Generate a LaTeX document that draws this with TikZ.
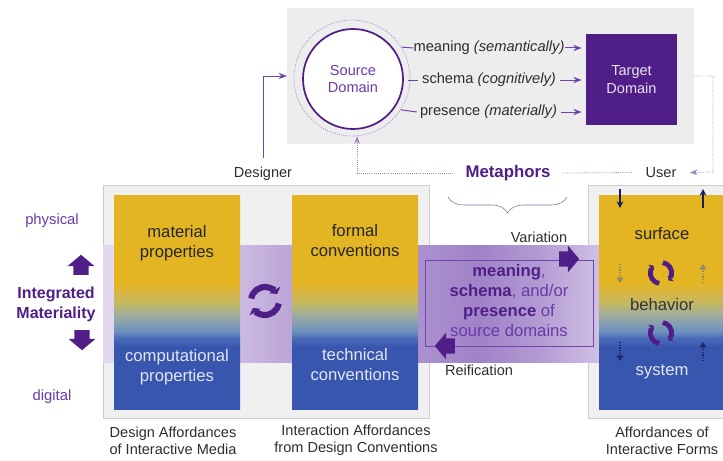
\documentclass[tikz,border=0pt]{standalone}
\usepackage{fontspec}
\setmainfont{Liberation Sans}
\usetikzlibrary{arrows.meta, calc, positioning, shapes.arrows, decorations.pathreplacing}
\definecolor{deeppurple}{RGB}{79,31,135}
\definecolor{textpurple}{RGB}{106,58,168}
\definecolor{linepurple}{RGB}{112,70,170}
\definecolor{softpurple}{RGB}{160,130,200}
\definecolor{panelgray}{RGB}{237,237,237}
\definecolor{boxgray}{RGB}{240,240,240}
\definecolor{edgegray}{RGB}{205,205,205}
\definecolor{matyellow}{RGB}{227,181,35}
\definecolor{matblue}{RGB}{56,86,174}
\definecolor{darktext}{RGB}{45,45,45}
\definecolor{navy}{RGB}{20,30,90}
\definecolor{fadeA}{RGB}{214,182,70}
\definecolor{fadeB}{RGB}{197,184,96}
\definecolor{fadeC}{RGB}{168,176,143}
\definecolor{fadeD}{RGB}{143,165,170}
\definecolor{fadeE}{RGB}{106,142,192}
\definecolor{fadeF}{RGB}{74,108,184}
\pgfdeclareverticalshading{matshade}{100bp}{
  color(0bp)=(matblue); color(39.5bp)=(matblue); color(41.6bp)=(fadeF); color(43bp)=(fadeE);
  color(45.8bp)=(fadeD); color(47.7bp)=(fadeC); color(49.8bp)=(fadeB); color(52.1bp)=(fadeA);
  color(54.4bp)=(matyellow); color(100bp)=(matyellow)}
\pgfdeclarehorizontalshading{bandshade}{100bp}{
  color(0bp)=(softpurple!30!white); color(25bp)=(softpurple!30!white); color(38.8bp)=(softpurple!55!white);
  color(44.05bp)=(softpurple!72!white); color(56.76bp)=(softpurple!88!white);
  color(63bp)=(softpurple); color(69bp)=(softpurple!80!white);
  color(75bp)=(softpurple!50!white); color(100bp)=(softpurple!50!white)}
\tikzset{
  label text/.style={font=\fontsize{10.9}{12.8}\selectfont, text=darktext, align=center, inner sep=0pt},
  flow text/.style={font=\fontsize{11}{13}\selectfont, text=darktext, inner sep=0pt, text height=8pt, text depth=2.5pt},
  bar text/.style={font=\fontsize{12.5}{15}\selectfont, align=center, inner sep=0pt},
  side text/.style={font=\fontsize{11.1}{13}\selectfont, text=textpurple, inner sep=0pt},
  bar/.style={shading=matshade},
  flow/.style={line width=.75pt, linepurple},
  dotflow/.style={line width=.6pt, softpurple, densely dotted},
  blockarrow/.style={single arrow, fill=deeppurple, inner ysep=5.5pt, inner xsep=0pt, minimum width=20pt,
    minimum height=15pt, single arrow head extend=4.5pt, single arrow tip angle=100},
  cyclearrow/.style={deeppurple, line width=4.6pt, -{Triangle[length=3.5pt,width=9.5pt]}},
  smallcycle/.style={deeppurple, line width=3.6pt, -{Triangle[length=2.5pt,width=6pt]}},
  hintarrow/.style={line width=1pt, densely dotted, -{Triangle[length=4pt,width=5pt]}}
}
\begin{document}
\begin{tikzpicture}[x=.75pt, y=-.75pt, >=Stealth]
    \useasboundingbox (0,0) rectangle (723,460);

    % Top panel
    \fill[panelgray] (287,8) rectangle (694,144);
    \coordinate (panelL) at (287,76);
    \coordinate (panelR) at (694,76);

    % Source and target
    \node[circle, draw=softpurple, densely dotted, line width=.6pt, minimum size=87pt, inner sep=0pt] (srcdot) at (352,78) {};
    \node[circle, draw=deeppurple, fill=white, line width=1.3pt, minimum size=75pt, inner sep=0pt, align=center,
        text=textpurple, font=\fontsize{10.9}{13}\selectfont] (src) at (353,79) {Source\\Domain};
    \node[rectangle, fill=deeppurple, minimum width=68.25pt, minimum height=68.25pt, inner sep=0pt, align=center,
        text=white!85!textpurple, font=\fontsize{10.9}{13}\selectfont] (target) at (631.5,79.5) {Target\\Domain};

    % Mapping labels
    \node[flow text] (meaning) at (489,48) {meaning \textit{(semantically)}};
    \node[flow text] (schema) at (489,80) {schema \textit{(cognitively)}};
    \node[flow text] (presence) at (488.5,112) {presence \textit{(materially)}};
    \draw[flow] (srcdot.32) -- (meaning.west);
    \draw[flow, ->, shorten >=3pt] (meaning.east) -- (target.west |- meaning);
    \draw[flow] (srcdot.east) ++(-2,2) -- ($(schema.west)+(-4,0)$);
    \draw[flow, ->, shorten >=3pt, shorten <=3pt] (schema.east) -- (target.west |- schema);
    \draw[flow] (srcdot.-33) -- ($(presence.west)+(-3,0)$);
    \draw[flow, ->, shorten >=3pt, shorten <=3pt] (presence.east) -- (target.west |- presence);

    % Designer, metaphors, user
    \node[label text] (designer) at (263,173.5) {Designer};
    \node[text=deeppurple, font=\bfseries\fontsize{12.6}{15}\selectfont, inner ysep=0pt, inner xsep=9pt] (metaphors) at (508,173) {Metaphors};
    \node[label text, inner xsep=10pt] (user) at (661,172.5) {User};
    \coordinate (userturn) at (713,172);
    \draw[flow, ->, shorten <=6pt] (designer.north) |- (panelL);
    \draw[dotflow, ->] (metaphors.west) -| (srcdot.275);
    \draw[dotflow] (metaphors.east) -- (user.west);
    \draw[dotflow, ->] (panelR) -| (userturn) -- (user.east);

    % Brace
    \coordinate (braceR) at (567,197);
    \coordinate (braceL) at (448,197);
    \draw[line width=.4pt, softpurple!70!darktext, decorate, decoration={brace, amplitude=12pt, aspect=.5}] (braceR) -- (braceL);

    % Affordance boxes
    \draw[edgegray, fill=boxgray] (103,185) rectangle (429,418);
    \draw[edgegray, fill=boxgray] (723,185) -- (588,185) -- (588,418) -- (723,418);

    % Band
    \fill[shading=bandshade] (103,245) rectangle (599,362);

    % Bars
    \fill[bar] (114,195) rectangle (240,409);
    \fill[bar] (292,195) rectangle (418,409);
    \fill[bar] (599,195) rectangle (723,409);

    % Bar labels
    \node[bar text, text=black!85] (material) at (177,243) {material\\properties};
    \node[bar text, text=white!85!matblue] (computational) at (177,367) {computational\\properties};
    \node[bar text, text=black!85] (formal) at (355,241) {formal\\conventions};
    \node[bar text, text=white!85!matblue] (technical) at (355,365) {technical\\conventions};
    \node[bar text, text=black!85] (surface) at (662,234) {surface};
    \node[bar text, text=darktext!85!matblue] (behavior) at (662,305) {behavior};
    \node[bar text, text=white!85!matblue] (system) at (662,372) {system};

    % Left side
    \node[side text] (physical) at (52,221) {physical};
    \node[side text] (digital) at (52,397) {digital};
    \node[bar text, font=\bfseries\fontsize{12}{15}\selectfont, text=deeppurple] (integrated) at (56,304) {Integrated\\Materiality};
    \node[blockarrow, rotate=90] (upArrow) at (81,268) {};
    \node[blockarrow, rotate=-90] (downArrow) at (82,337) {};

    % Metaphor box
    \node[rectangle, draw=linepurple, line width=.6pt, minimum width=126pt, minimum height=64.5pt, inner sep=0pt] (metabox) at (509,303) {};
    \node[bar text, text=textpurple] (metatext) at (509,301)
        {\textcolor{deeppurple}{\textbf{meaning}},\\ \textcolor{deeppurple}{\textbf{schema}}, and/or\\ \textcolor{deeppurple}{\textbf{presence}} of\\ source domains};
    \node[blockarrow] (variation) at (566,259) {};
    \node[blockarrow, rotate=180] (reification) at (448,346) {};
    \node[label text] (varLabel) at (539,237) {Variation};
    \node[label text] (reifLabel) at (479,370) {Reification};

    % Cycle arrows
    \coordinate (cycleA) at (265,301);
    \draw[cyclearrow] ([shift={(170:10.5pt)}]cycleA) arc[start angle=170, end angle=30, radius=10.5pt];
    \draw[cyclearrow] ([shift={(-10:10.5pt)}]cycleA) arc[start angle=-10, end angle=-150, radius=10.5pt];
    \coordinate (cycleB) at (661,273);
    \coordinate (cycleC) at (661,333);
    \foreach \cyc in {cycleB, cycleC} {
        \draw[smallcycle] ([shift={(-100:8pt)}]\cyc) arc[start angle=-100, end angle=-225, radius=8pt];
        \draw[smallcycle] ([shift={(80:8pt)}]\cyc) arc[start angle=80, end angle=-45, radius=8pt];
    }

    % Small arrows in third bar
    \coordinate (downA) at (620,189); \coordinate (downB) at (620,208);
    \coordinate (upA) at (703,208); \coordinate (upB) at (703,189);
    \draw[navy, line width=1pt, -{Stealth[length=5pt,width=5pt]}] (downA) -- (downB);
    \draw[navy, line width=1pt, -{Stealth[length=5pt,width=5pt]}] (upA) -- (upB);
    \coordinate (hintA) at (620,264); \coordinate (hintB) at (620,283);
    \coordinate (hintC) at (703,283); \coordinate (hintD) at (703,264);
    \draw[hintarrow, gray!80!matyellow] (hintA) -- (hintB);
    \draw[hintarrow, gray!80!matyellow] (hintC) -- (hintD);
    \coordinate (hintE) at (620,342); \coordinate (hintF) at (620,361);
    \coordinate (hintG) at (703,361); \coordinate (hintH) at (703,342);
    \draw[hintarrow, navy!80!matblue] (hintE) -- (hintF);
    \draw[hintarrow, navy!80!matblue] (hintG) -- (hintH);

    % Captions
    \node[label text] (capA) at (173,440.5) {Design Affordances\\of Interactive Media};
    \node[label text] (capB) at (356,440.5) {Interaction Affordances\\from Design Conventions};
    \node[label text] (capC) at (662,440.5) {Affordances of\\Interactive Forms};
\end{tikzpicture}
\end{document}
